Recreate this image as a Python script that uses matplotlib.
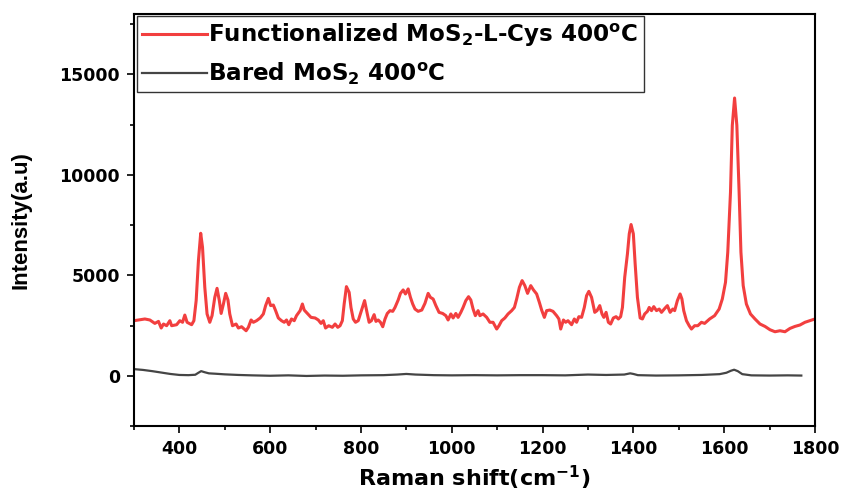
import matplotlib
matplotlib.use("Agg")
import matplotlib.pyplot as plt
from matplotlib.ticker import MultipleLocator

plt.rcParams['font.family'] = ['DejaVu Sans']
plt.rcParams['mathtext.fontset'] = 'dejavusans'

# functionalized MoS2-L-Cys 400C
shift_f = [300, 324, 335, 346, 354, 360, 365, 372, 379, 383, 394, 401, 407, 412, 417,
           427, 432, 437, 442, 447, 451, 456, 461, 467, 472, 478, 483, 488, 492, 497,
           502, 507, 511, 517, 525, 530, 537, 547, 552, 558, 563, 570, 578, 585, 590,
           596, 601, 607, 612, 618, 625, 631, 636, 641, 647, 653, 658, 666, 671, 675,
           683, 690, 699, 706, 712, 717, 722, 729, 737, 743, 749, 754, 759, 763, 768,
           774, 778, 783, 788, 794, 801, 808, 814, 818, 823, 829, 833, 838, 843, 848,
           853, 858, 864, 870, 875, 882, 887, 893, 898, 904, 909, 914, 919, 926, 934,
           941, 948, 953, 959, 965, 972, 980, 987, 992, 998, 1003, 1009, 1014, 1020, 1025,
           1031, 1037, 1042, 1047, 1052, 1058, 1062, 1069, 1077, 1084, 1091, 1099, 1104, 1110, 1117,
           1124, 1132, 1138, 1143, 1149, 1155, 1161, 1167, 1174, 1180, 1187, 1193, 1198, 1204, 1209,
           1216, 1223, 1231, 1236, 1240, 1246, 1251, 1256, 1264, 1270, 1275, 1280, 1286, 1292, 1297,
           1302, 1308, 1315, 1320, 1326, 1331, 1335, 1340, 1345, 1350, 1356, 1362, 1367, 1372, 1376,
           1381, 1387, 1391, 1395, 1400, 1404, 1409, 1415, 1420, 1425, 1431, 1435, 1440, 1445, 1451,
           1457, 1462, 1470, 1475, 1481, 1487, 1491, 1497, 1503, 1507, 1511, 1517, 1523, 1528, 1535,
           1542, 1550, 1557, 1568, 1579, 1589, 1596, 1603, 1608, 1614, 1618, 1623, 1628, 1633, 1637,
           1642, 1649, 1658, 1668, 1679, 1690, 1701, 1712, 1723, 1734, 1745, 1756, 1767, 1778, 1789,
           1800]
int_f = [2740, 2825, 2775, 2605, 2705, 2375, 2575, 2490, 2740, 2490, 2540, 2740, 2660, 3020, 2660,
         2540, 2740, 3740, 5730, 7090, 6390, 4400, 3075, 2660, 2990, 3900, 4350, 3740, 3100, 3570,
         4100, 3770, 3075, 2490, 2575, 2375, 2440, 2240, 2410, 2775, 2660, 2740, 2875, 3075, 3490,
         3850, 3490, 3520, 3240, 2875, 2740, 2660, 2775, 2540, 2825, 2740, 2990, 3240, 3570, 3270,
         3075, 2905, 2875, 2775, 2605, 2740, 2375, 2490, 2410, 2575, 2410, 2490, 2740, 3570, 4435,
         4150, 3400, 2825, 2660, 2740, 3240, 3740, 3075, 2660, 2740, 3040, 2705, 2775, 2660, 2440,
         2825, 3100, 3240, 3205, 3400, 3770, 4100, 4270, 4070, 4320, 3900, 3570, 3320, 3205, 3270,
         3605, 4100, 3900, 3820, 3490, 3155, 3100, 2990, 2775, 3075, 2875, 3100, 2905, 3155, 3400,
         3740, 3935, 3770, 3320, 2990, 3240, 2990, 3075, 2905, 2660, 2660, 2325, 2490, 2740, 2875,
         3075, 3240, 3400, 3820, 4400, 4735, 4485, 4100, 4485, 4270, 4070, 3650, 3270, 2905, 3240,
         3270, 3205, 2990, 2825, 2325, 2775, 2660, 2740, 2540, 2825, 2660, 2940, 2905, 3400, 3985,
         4200, 3900, 3155, 3240, 3490, 3075, 2905, 3155, 2660, 2575, 2875, 2940, 2825, 2940, 3400,
         4900, 6065, 7060, 7525, 7060, 5565, 3900, 2875, 2825, 3075, 3205, 3400, 3240, 3440, 3240,
         3320, 3155, 3370, 3490, 3155, 3320, 3240, 3740, 4070, 3820, 3240, 2740, 2490, 2325, 2490,
         2490, 2660, 2605, 2825, 2990, 3320, 3820, 4650, 6145, 9135, 12460, 13820, 12460, 9135, 6145,
         4485, 3570, 3075, 2825, 2575, 2455, 2290, 2190, 2240, 2190, 2355, 2455, 2525, 2660, 2740,
         2825]

# bared MoS2 400C
shift_b = [300, 320, 340, 360, 380, 400, 420, 435, 442, 448, 455, 465, 480, 500, 530,
           560, 600, 640, 680, 720, 760, 800, 850, 880, 900, 920, 960, 1000, 1050, 1100,
           1150, 1200, 1250, 1300, 1340, 1380, 1393, 1400, 1410, 1450, 1500, 1550, 1590, 1605, 1615,
           1622, 1630, 1640, 1660, 1700, 1740, 1770]
int_b = [330, 290, 230, 160, 90, 40, 30, 50, 150, 230, 180, 120, 100, 70, 40,
         20, 0, 20, -10, 10, 0, 20, 30, 60, 90, 60, 30, 20, 30, 20,
         30, 30, 20, 60, 40, 60, 120, 90, 30, 10, 20, 40, 80, 150, 250,
         300, 230, 80, 20, 10, 20, 10]

fig = plt.figure(figsize=(8.41, 4.93), dpi=100)
ax = fig.add_axes([0.1593, 0.1359, 0.8097, 0.8357])

ax.plot(shift_f, int_f, color='#f23f3f', lw=2.2,
        label=r'Functionalized MoS$_\mathbf{2}$-L-Cys 400$^\mathbf{o}$C')
ax.plot(shift_b, int_b, color='#454545', lw=1.6,
        label=r'Bared MoS$_\mathbf{2}$ 400$^\mathbf{o}$C')

ax.set_xlim(300, 1800)
ax.set_ylim(-2500, 18000)
ax.xaxis.set_major_locator(MultipleLocator(200))
ax.xaxis.set_minor_locator(MultipleLocator(100))
ax.yaxis.set_major_locator(MultipleLocator(5000))
ax.yaxis.set_minor_locator(MultipleLocator(2500))
ax.tick_params(which='both', direction='out', width=1.2, top=False, right=False)
ax.tick_params(which='major', length=5, pad=5, labelsize=12.5)
ax.tick_params(which='minor', length=3)
for lbl in ax.get_xticklabels() + ax.get_yticklabels():
    lbl.set_fontweight('bold')
for s in ax.spines.values():
    s.set_linewidth(1.5)

ax.set_xlabel(r'Raman shift(cm$^\mathbf{-1}$)', fontsize=16, fontweight='bold', labelpad=4)
ax.set_ylabel('Intensity(a.u)', fontsize=16, fontweight='bold', labelpad=20,
              family=['Liberation Sans', 'DejaVu Sans'])

leg = ax.legend(loc='upper left', bbox_to_anchor=(0.004, 0.995), borderaxespad=0,
                fancybox=False, handlelength=2.8, handletextpad=0.05,
                labelspacing=0.5, borderpad=0.25,
                prop={'weight': 'bold', 'size': 16.6})
leg.get_frame().set_edgecolor('#333333')
leg.get_frame().set_linewidth(1.0)
leg.get_frame().set_alpha(1)

fig.savefig('out.png', dpi=100)
